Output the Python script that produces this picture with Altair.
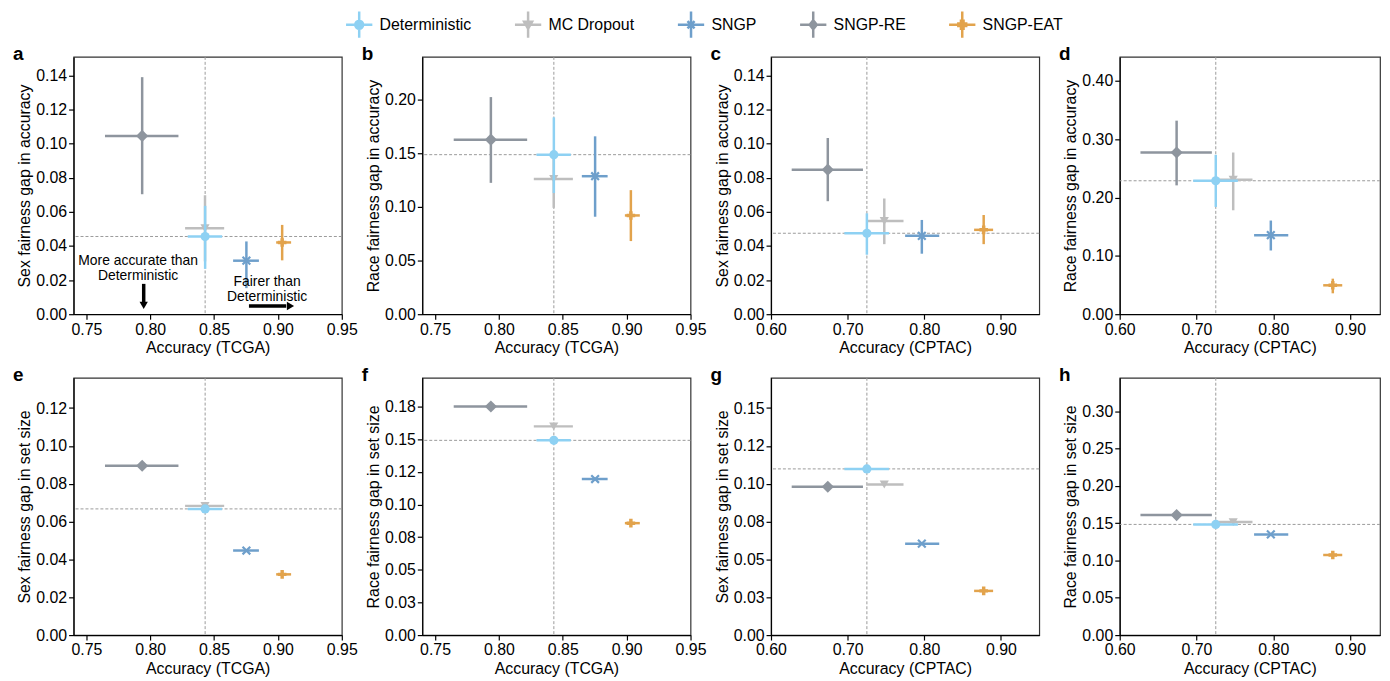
import json
import altair as alt
import pandas as pd

FONT = "Liberation Sans"

MODELS = ["Deterministic", "MC Dropout", "SNGP", "SNGP-RE", "SNGP-EAT"]
COLORS = ["#8ED1F3", "#BEBEBE", "#6E9FCB", "#8E959E", "#E2A34C"]
DRAW_ORDER = ["SNGP-RE", "MC Dropout", "Deterministic", "SNGP", "SNGP-EAT"]

# Accuracy (mean, lower, upper) in MODELS order
TCGA_ACC = [0.8430, 0.8429, 0.8753, 0.7937, 0.9033]
TCGA_ACC_LO = [0.8294, 0.8273, 0.8649, 0.7646, 0.8986]
TCGA_ACC_HI = [0.8563, 0.8579, 0.8851, 0.8221, 0.9103]
CPTAC_ACC = [0.7251, 0.7478, 0.7968, 0.6741, 0.8775]
CPTAC_ACC_LO = [0.6957, 0.7242, 0.7750, 0.6270, 0.8650]
CPTAC_ACC_HI = [0.7539, 0.7729, 0.8195, 0.7200, 0.8898]

# Fairness gaps (mean, lower, upper) in MODELS order
A_GAP = [0.0456, 0.0504, 0.0314, 0.1046, 0.0421]
A_LO = [0.0266, 0.0310, 0.0153, 0.0704, 0.0316]
A_HI = [0.0636, 0.0698, 0.0427, 0.1391, 0.0524]
B_GAP = [0.1488, 0.1262, 0.1287, 0.1628, 0.0921]
B_LO = [0.1130, 0.0992, 0.0909, 0.1225, 0.0682]
B_HI = [0.1836, 0.1520, 0.1659, 0.2025, 0.1157]
C_GAP = [0.0475, 0.0547, 0.0460, 0.0848, 0.0495]
C_LO = [0.0349, 0.0411, 0.0355, 0.0663, 0.0411]
C_HI = [0.0592, 0.0679, 0.0553, 0.1034, 0.0582]
D_GAP = [0.2287, 0.2304, 0.1354, 0.2771, 0.0495]
D_LO = [0.1838, 0.1781, 0.1092, 0.2208, 0.0358]
D_HI = [0.2731, 0.2771, 0.1605, 0.3317, 0.0609]
E_GAP = [0.0667, 0.0683, 0.0447, 0.0895, 0.0321]
E_LO = [0.0661, 0.0677, 0.0441, 0.0889, 0.0311]
E_HI = [0.0673, 0.0689, 0.0453, 0.0901, 0.0331]
F_GAP = [0.1491, 0.1598, 0.1195, 0.1750, 0.0857]
F_LO = [0.1481, 0.1588, 0.1185, 0.1740, 0.0842]
F_HI = [0.1501, 0.1608, 0.1205, 0.1760, 0.0872]
G_GAP = [0.1098, 0.0995, 0.0604, 0.0980, 0.0292]
G_LO = [0.1088, 0.0985, 0.0594, 0.0970, 0.0279]
G_HI = [0.1108, 0.1005, 0.0614, 0.0990, 0.0305]
H_GAP = [0.1484, 0.1515, 0.1350, 0.1609, 0.1074]
H_LO = [0.1474, 0.1505, 0.1340, 0.1599, 0.1059]
H_HI = [0.1494, 0.1525, 0.1360, 0.1619, 0.1089]

# Axis ticks / labels
TCGA_TICKS = [0.75, 0.80, 0.85, 0.90, 0.95]
TCGA_LABELS = ["0.75", "0.80", "0.85", "0.90", "0.95"]
CPTAC_TICKS = [0.6, 0.7, 0.8, 0.9]
CPTAC_LABELS = ["0.60", "0.70", "0.80", "0.90"]
Y_TICKS_014 = [0.0, 0.02, 0.04, 0.06, 0.08, 0.10, 0.12, 0.14]
Y_LABELS_014 = ["0.00", "0.02", "0.04", "0.06", "0.08", "0.10", "0.12", "0.14"]
Y_TICKS_012 = [0.0, 0.02, 0.04, 0.06, 0.08, 0.10, 0.12]
Y_LABELS_012 = ["0.00", "0.02", "0.04", "0.06", "0.08", "0.10", "0.12"]
Y_TICKS_020 = [0.0, 0.05, 0.10, 0.15, 0.20]
Y_LABELS_020 = ["0.00", "0.05", "0.10", "0.15", "0.20"]
Y_TICKS_040 = [0.0, 0.1, 0.2, 0.3, 0.4]
Y_LABELS_040 = ["0.00", "0.10", "0.20", "0.30", "0.40"]
Y_TICKS_F = [0.0, 0.025, 0.05, 0.075, 0.1, 0.125, 0.15, 0.175]
Y_LABELS_F = ["0.00", "0.03", "0.05", "0.08", "0.10", "0.12", "0.15", "0.18"]
Y_TICKS_G = [0.0, 0.025, 0.05, 0.075, 0.1, 0.125, 0.15]
Y_LABELS_G = ["0.00", "0.03", "0.05", "0.08", "0.10", "0.12", "0.15"]
Y_TICKS_030 = [0.0, 0.05, 0.10, 0.15, 0.20, 0.25, 0.30]
Y_LABELS_030 = ["0.00", "0.05", "0.10", "0.15", "0.20", "0.25", "0.30"]

# Annotations in panel a (first-line positions)
ANN_TEXT = ["More accurate than\nDeterministic", "Fairer than\nDeterministic"]
ANN_X = [0.7905, 0.8915]
ANN_Y = [0.0311, 0.0188]
DOWN_X = [0.7949]
DOWN_Y = [0.0178]
DOWN_Y2 = [0.0066]
DOWN_HEAD_Y = [0.0052]
RIGHT_Y = [0.0048]
RIGHT_X = [0.8773]
RIGHT_X2 = [0.9065]
RIGHT_HEAD_X = [0.9098]

MARKERS = {
    "Deterministic": dict(shape="circle", filled=True, size=85),
    "MC Dropout": dict(shape="triangle-down", filled=True, size=85),
    "SNGP": dict(shape="M-1,-1L1,1M-1,1L1,-1", filled=False, size=60, strokeWidth=2.2),
    "SNGP-RE": dict(shape="diamond", filled=True, size=150),
    "SNGP-EAT": dict(shape="cross", filled=True, size=75),
}
ARMS = "M-1,0L1,0M0,-1L0,1"
LEGEND_SHAPES = [
    ARMS + "M0.3,0A0.3,0.3,0,1,1,-0.3,0A0.3,0.3,0,1,1,0.3,0Z",
    ARMS + "M-0.3,-0.22L0.3,-0.22L0,0.3Z",
    ARMS + "M-0.27,-0.27L0.27,0.27M-0.27,0.27L0.27,-0.27",
    ARMS + "M0,-0.34L0.27,0L0,0.34L-0.27,0Z",
    ARMS + "M-0.1,-0.3L0.1,-0.3L0.1,-0.1L0.3,-0.1L0.3,0.1L0.1,0.1L0.1,0.3L-0.1,0.3L-0.1,0.1L-0.3,0.1L-0.3,-0.1L-0.1,-0.1Z",
]

COLOR_OF = dict(zip(MODELS, COLORS))


def lab_expr(values, labels):
    return f"{json.dumps(labels)}[indexof({json.dumps(values)}, datum.value)]"


def make_panel(letter, acc, acc_lo, acc_hi, gap, gap_lo, gap_hi,
               xdom, xticks, xlabels, xtitle, ydom, yticks, ylabels, ytitle,
               width, with_legend=False, with_ann=False):
    df = pd.DataFrame({"model": MODELS, "acc": acc, "acc_lo": acc_lo, "acc_hi": acc_hi,
                       "gap": gap, "gap_lo": gap_lo, "gap_hi": gap_hi})
    xaxis = alt.Axis(values=xticks, labelExpr=lab_expr(xticks, xlabels), title=xtitle,
                     labelFlush=False, labelOverlap=False)
    yaxis = alt.Axis(values=yticks, labelExpr=lab_expr(yticks, ylabels), title=ytitle,
                     labelFlush=False, labelOverlap=False)
    xs = alt.Scale(domain=xdom, nice=False, zero=False)
    ys = alt.Scale(domain=ydom, nice=False, zero=False)

    def X(f):
        return alt.X(f, type="quantitative", scale=xs, axis=xaxis)

    def Y(f):
        return alt.Y(f, type="quantitative", scale=ys, axis=yaxis)

    base = alt.Chart(df)
    layers = []
    det = base.transform_filter("datum.model === 'Deterministic'")
    layers.append(det.mark_rule(color="#9a9a9a", strokeDash=[3, 2], strokeWidth=1).encode(x=X("acc")))
    layers.append(det.mark_rule(color="#9a9a9a", strokeDash=[3, 2], strokeWidth=1).encode(y=Y("gap")))

    for m in DRAW_ORDER:
        c = COLOR_OF[m]
        sub = base.transform_filter(f"datum.model === '{m}'")
        layers.append(sub.mark_rule(color=c, strokeWidth=2.5).encode(x=X("acc_lo"), x2="acc_hi", y=Y("gap")))
        layers.append(sub.mark_rule(color=c, strokeWidth=2.5).encode(x=X("acc"), y=Y("gap_lo"), y2="gap_hi"))
        mk = MARKERS[m]
        layers.append(sub.mark_point(color=c, opacity=1, **mk).encode(x=X("acc"), y=Y("gap")))

    if with_ann:
        adf = pd.DataFrame({"x": ANN_X, "y": ANN_Y, "text": ANN_TEXT})
        layers.append(alt.Chart(adf).mark_text(font=FONT, fontSize=14, lineBreak="\n", lineHeight=15,
                                               align="center", baseline="middle", color="black")
                      .encode(x=X("x"), y=Y("y"), text="text"))
        ddf = pd.DataFrame({"x": DOWN_X, "y": DOWN_Y, "y2": DOWN_Y2, "hy": DOWN_HEAD_Y})
        layers.append(alt.Chart(ddf).mark_rule(color="black", strokeWidth=3.5)
                      .encode(x=X("x"), y=Y("y"), y2="y2"))
        layers.append(alt.Chart(ddf).mark_point(shape="triangle-down", filled=True, color="black",
                                                opacity=1, size=70)
                      .encode(x=X("x"), y=Y("hy")))
        rdf = pd.DataFrame({"x": RIGHT_X, "x2": RIGHT_X2, "y": RIGHT_Y, "hx": RIGHT_HEAD_X})
        layers.append(alt.Chart(rdf).mark_rule(color="black", strokeWidth=3.5)
                      .encode(x=X("x"), x2="x2", y=Y("y")))
        layers.append(alt.Chart(rdf).mark_point(shape="triangle-right", filled=True, color="black",
                                                opacity=1, size=70)
                      .encode(x=X("hx"), y=Y("y")))

    if with_legend:
        leg = alt.Legend(orient="none", legendX=273, legendY=-47, direction="horizontal", title=None,
                         symbolSize=700, symbolStrokeWidth=2.5, labelFontSize=16, labelFont=FONT,
                         labelColor="black", columnPadding=38, labelOffset=6)
        ldf = pd.DataFrame({"model": MODELS})
        layers.append(alt.Chart(ldf).transform_filter("datum.model === 'none'")
                      .mark_point(filled=True, opacity=1, strokeWidth=2.5)
                      .encode(fill=alt.Fill("model:N", scale=alt.Scale(domain=MODELS, range=COLORS), legend=leg),
                              stroke=alt.Stroke("model:N", scale=alt.Scale(domain=MODELS, range=COLORS), legend=leg),
                              shape=alt.Shape("model:N", scale=alt.Scale(domain=MODELS, range=LEGEND_SHAPES), legend=leg)))

    return alt.layer(*layers).properties(
        width=width, height=259,
        title=alt.TitleParams(letter, anchor="start", frame="group", dx=-61, dy=23, offset=0,
                              baseline="alphabetic", fontSize=19, fontWeight="bold", font=FONT,
                              color="black"),
    )


TX = [0.74, 0.95]
CX = [0.60, 0.95]
CXD = [0.60, 0.939]

panels = [
    make_panel("a", TCGA_ACC, TCGA_ACC_LO, TCGA_ACC_HI, A_GAP, A_LO, A_HI, TX, TCGA_TICKS, TCGA_LABELS,
               "Accuracy (TCGA)", [0, 0.151], Y_TICKS_014, Y_LABELS_014, "Sex fairness gap in accuracy", 270,
               with_legend=True, with_ann=True),
    make_panel("b", TCGA_ACC, TCGA_ACC_LO, TCGA_ACC_HI, B_GAP, B_LO, B_HI, TX, TCGA_TICKS, TCGA_LABELS,
               "Accuracy (TCGA)", [0, 0.24], Y_TICKS_020, Y_LABELS_020, "Race fairness gap in accuracy", 270),
    make_panel("c", CPTAC_ACC, CPTAC_ACC_LO, CPTAC_ACC_HI, C_GAP, C_LO, C_HI, CX, CPTAC_TICKS, CPTAC_LABELS,
               "Accuracy (CPTAC)", [0, 0.151], Y_TICKS_014, Y_LABELS_014, "Sex fairness gap in accuracy", 270),
    make_panel("d", CPTAC_ACC, CPTAC_ACC_LO, CPTAC_ACC_HI, D_GAP, D_LO, D_HI, CXD, CPTAC_TICKS, CPTAC_LABELS,
               "Accuracy (CPTAC)", [0, 0.441], Y_TICKS_040, Y_LABELS_040, "Race fairness gap in accuracy", 262),
    make_panel("e", TCGA_ACC, TCGA_ACC_LO, TCGA_ACC_HI, E_GAP, E_LO, E_HI, TX, TCGA_TICKS, TCGA_LABELS,
               "Accuracy (TCGA)", [0, 0.136], Y_TICKS_012, Y_LABELS_012, "Sex fairness gap in set size", 270),
    make_panel("f", TCGA_ACC, TCGA_ACC_LO, TCGA_ACC_HI, F_GAP, F_LO, F_HI, TX, TCGA_TICKS, TCGA_LABELS,
               "Accuracy (TCGA)", [0, 0.197], Y_TICKS_F, Y_LABELS_F, "Race fairness gap in set size", 270),
    make_panel("g", CPTAC_ACC, CPTAC_ACC_LO, CPTAC_ACC_HI, G_GAP, G_LO, G_HI, CX, CPTAC_TICKS, CPTAC_LABELS,
               "Accuracy (CPTAC)", [0, 0.170], Y_TICKS_G, Y_LABELS_G, "Sex fairness gap in set size", 270),
    make_panel("h", CPTAC_ACC, CPTAC_ACC_LO, CPTAC_ACC_HI, H_GAP, H_LO, H_HI, CXD, CPTAC_TICKS, CPTAC_LABELS,
               "Accuracy (CPTAC)", [0, 0.345], Y_TICKS_030, Y_LABELS_030, "Race fairness gap in set size", 262),
]

chart = alt.concat(*panels, columns=4, spacing={"row": 64, "column": 81}, bounds="flush", align="each")
chart = chart.resolve_scale(x="independent", y="independent").properties(
    padding={"left": 4, "top": 0, "right": 0, "bottom": 0}
).configure_axis(
    labelFont=FONT, titleFont=FONT, labelFontSize=16, titleFontSize=16, titleFontWeight="normal",
    labelColor="black", titleColor="black", domainColor="black", tickColor="black",
    domainWidth=1.2, tickWidth=1.2, tickSize=5, grid=False, labelPadding=2, titlePadding=3,
).configure_view(stroke="#333333", strokeWidth=1.2)

chart.save("out.html", embed_options={"renderer": "svg", "actions": False})
